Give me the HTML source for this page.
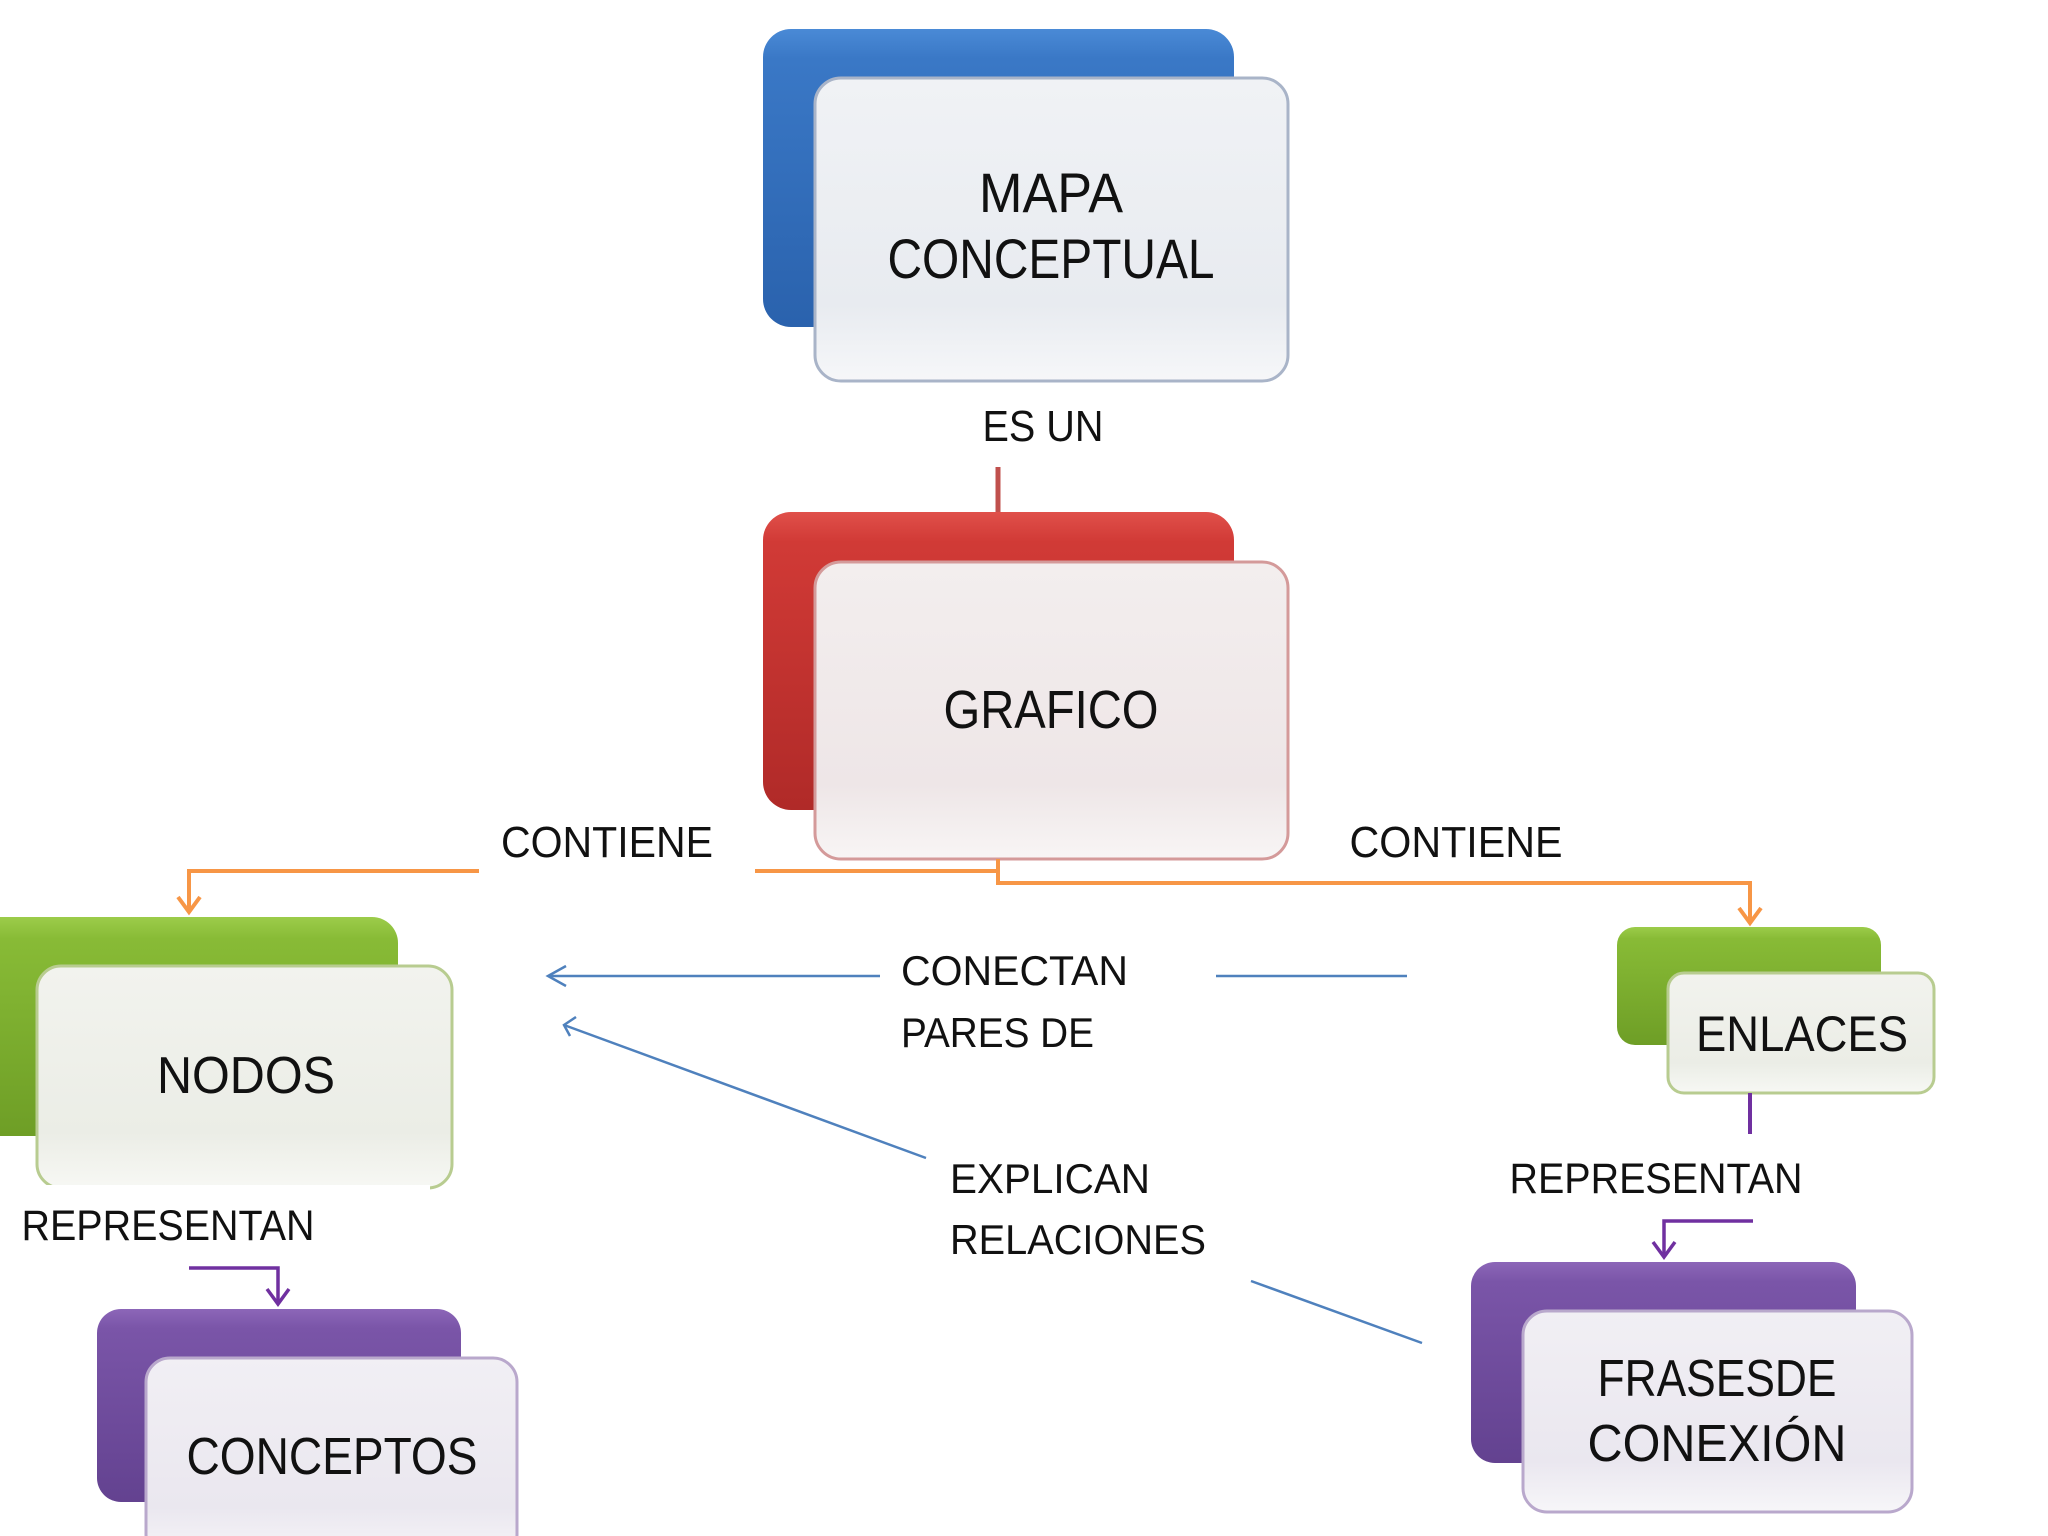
<!DOCTYPE html>
<html><head><meta charset="utf-8"><style>
html,body{margin:0;padding:0;background:#fff;}
svg{display:block;}
text{font-family:"Liberation Sans",sans-serif;fill:#111;}
</style></head><body>
<svg width="2048" height="1536" viewBox="0 0 2048 1536" xmlns="http://www.w3.org/2000/svg">
<defs>
<linearGradient id="blue" x1="0" y1="0" x2="0" y2="1"><stop offset="0" stop-color="#4a8ad6"/><stop offset="0.1" stop-color="#3a78c6"/><stop offset="1" stop-color="#2a62ad"/></linearGradient>
<linearGradient id="red" x1="0" y1="0" x2="0" y2="1"><stop offset="0" stop-color="#e0504a"/><stop offset="0.1" stop-color="#d13a36"/><stop offset="1" stop-color="#b02a28"/></linearGradient>
<linearGradient id="green" x1="0" y1="0" x2="0" y2="1"><stop offset="0" stop-color="#9ccc4a"/><stop offset="0.1" stop-color="#88bb36"/><stop offset="1" stop-color="#6e9e26"/></linearGradient>
<linearGradient id="purple" x1="0" y1="0" x2="0" y2="1"><stop offset="0" stop-color="#8c66b8"/><stop offset="0.1" stop-color="#7a55a8"/><stop offset="1" stop-color="#634290"/></linearGradient>
<linearGradient id="card" x1="0" y1="0" x2="0" y2="1"><stop offset="0" stop-color="#f0f2f5"/><stop offset="0.75" stop-color="#e8ebf0"/><stop offset="1" stop-color="#f6f7f9"/></linearGradient>
<linearGradient id="cardr" x1="0" y1="0" x2="0" y2="1"><stop offset="0" stop-color="#f3eeee"/><stop offset="0.75" stop-color="#eee6e7"/><stop offset="1" stop-color="#f8f5f5"/></linearGradient>
<linearGradient id="cardg" x1="0" y1="0" x2="0" y2="1"><stop offset="0" stop-color="#f2f3ee"/><stop offset="0.75" stop-color="#ebede6"/><stop offset="1" stop-color="#f7f8f4"/></linearGradient>
<linearGradient id="cardp" x1="0" y1="0" x2="0" y2="1"><stop offset="0" stop-color="#f1eff4"/><stop offset="0.75" stop-color="#eae7ef"/><stop offset="1" stop-color="#f7f6f9"/></linearGradient>
</defs>

<rect x="763" y="29" width="471" height="298" rx="28" fill="url(#blue)"/>
<rect x="815" y="78" width="473" height="303" rx="26" fill="url(#card)" stroke="#a9b4c8" stroke-width="3"/>
<text x="1051" y="212" font-size="56" text-anchor="middle" textLength="144" lengthAdjust="spacingAndGlyphs">MAPA</text>
<text x="1051" y="278" font-size="56" text-anchor="middle" textLength="327" lengthAdjust="spacingAndGlyphs">CONCEPTUAL</text>

<text x="1043" y="441" font-size="44" text-anchor="middle" textLength="121" lengthAdjust="spacingAndGlyphs">ES UN</text>
<line x1="998" y1="467" x2="998" y2="512" stroke="#c0504d" stroke-width="5"/>

<rect x="763" y="512" width="471" height="298" rx="28" fill="url(#red)"/>
<rect x="815" y="562" width="473" height="297" rx="26" fill="url(#cardr)" stroke="#d49a9a" stroke-width="3"/>
<text x="1051" y="728" font-size="54" text-anchor="middle" textLength="215" lengthAdjust="spacingAndGlyphs">GRAFICO</text>

<g stroke="#f79646" stroke-width="4" fill="none">
<polyline points="479,871 189,871 189,910"/>
<polyline points="755,871 998,871 998,859"/>
<polyline points="998,859 998,883 1750,883 1750,922"/>
<polyline points="178,897 189,912 200,897"/>
<polyline points="1739,908 1750,923 1761,908"/>
</g>
<text x="607" y="857" font-size="44" text-anchor="middle" textLength="212" lengthAdjust="spacingAndGlyphs">CONTIENE</text>
<text x="1456" y="857" font-size="44" text-anchor="middle" textLength="213" lengthAdjust="spacingAndGlyphs">CONTIENE</text>

<rect x="-30" y="917" width="428" height="219" rx="26" fill="url(#green)"/>
<rect x="37" y="966" width="415" height="222" rx="24" fill="url(#cardg)" stroke="#b8cc90" stroke-width="3"/>
<rect x="30" y="1185" width="400" height="20" fill="#fff"/>
<text x="246" y="1093" font-size="52" text-anchor="middle" textLength="178" lengthAdjust="spacingAndGlyphs">NODOS</text>
<text x="168" y="1240" font-size="43" text-anchor="middle" textLength="293" lengthAdjust="spacingAndGlyphs">REPRESENTAN</text>
<g stroke="#7030a0" stroke-width="3.5" fill="none">
<polyline points="189,1268 278,1268 278,1302"/>
<polyline points="267,1289 278,1304 289,1289"/>
</g>

<rect x="97" y="1309" width="364" height="193" rx="24" fill="url(#purple)"/>
<rect x="146" y="1358" width="371" height="200" rx="24" fill="url(#cardp)" stroke="#b9a8cc" stroke-width="3"/>
<text x="332" y="1474" font-size="52" text-anchor="middle" textLength="291" lengthAdjust="spacingAndGlyphs">CONCEPTOS</text>

<rect x="1617" y="927" width="264" height="118" rx="18" fill="url(#green)"/>
<rect x="1668" y="973" width="266" height="120" rx="16" fill="url(#cardg)" stroke="#b8cc90" stroke-width="3"/>
<text x="1802" y="1051" font-size="50" text-anchor="middle" textLength="212" lengthAdjust="spacingAndGlyphs">ENLACES</text>
<line x1="1750" y1="1093" x2="1750" y2="1134" stroke="#7030a0" stroke-width="4"/>
<text x="1656" y="1193" font-size="43" text-anchor="middle" textLength="293" lengthAdjust="spacingAndGlyphs">REPRESENTAN</text>
<g stroke="#7030a0" stroke-width="3.5" fill="none">
<polyline points="1753,1221 1664,1221 1664,1255"/>
<polyline points="1653,1242 1664,1257 1675,1242"/>
</g>

<rect x="1471" y="1262" width="385" height="201" rx="24" fill="url(#purple)"/>
<rect x="1523" y="1311" width="389" height="201" rx="24" fill="url(#cardp)" stroke="#b9a8cc" stroke-width="3"/>
<text x="1717" y="1396" font-size="52" text-anchor="middle" textLength="239" lengthAdjust="spacingAndGlyphs">FRASESDE</text>
<text x="1717" y="1461" font-size="52" text-anchor="middle" textLength="259" lengthAdjust="spacingAndGlyphs">CONEXIÓN</text>

<g stroke="#4f81bd" stroke-width="2.5" fill="none">
<line x1="880" y1="976" x2="548" y2="976"/>
<polyline points="566,966 548,976 566,986"/>
<line x1="1216" y1="976" x2="1407" y2="976"/>
<line x1="926" y1="1158" x2="564" y2="1025"/>
<polyline points="576,1017 564,1025 570,1036"/>
<line x1="1251" y1="1281" x2="1422" y2="1343"/>
</g>
<text x="901" y="985" font-size="42" textLength="227" lengthAdjust="spacingAndGlyphs">CONECTAN</text>
<text x="901" y="1047" font-size="42" textLength="193" lengthAdjust="spacingAndGlyphs">PARES DE</text>
<text x="950" y="1193" font-size="42" textLength="200" lengthAdjust="spacingAndGlyphs">EXPLICAN</text>
<text x="950" y="1254" font-size="42" textLength="256" lengthAdjust="spacingAndGlyphs">RELACIONES</text>
</svg>
</body></html>
